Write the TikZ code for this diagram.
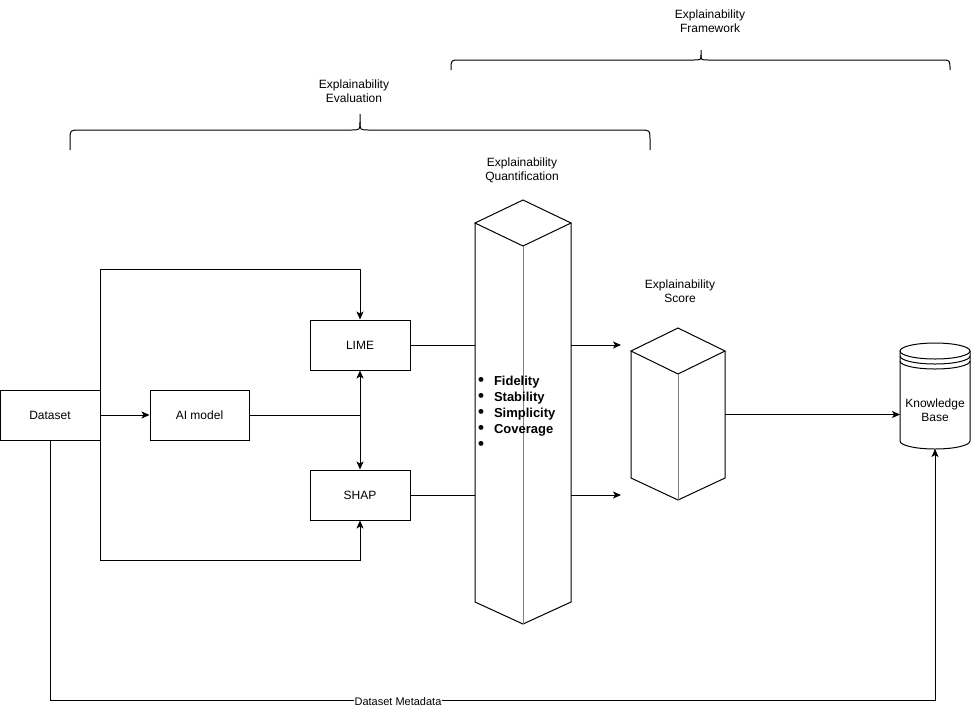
\documentclass[tikz,border=0pt]{standalone}
\usepackage{fontspec}
\setmainfont{Liberation Sans}
\usetikzlibrary{calc,arrows.meta}
\tikzset{
  box/.style={draw, line width=1pt, minimum width=100pt, minimum height=50pt, inner sep=0pt, font=\fontsize{12}{14}\selectfont},
  lbl/.style={align=center, inner sep=0pt, font=\fontsize{12}{14}\selectfont},
  wire/.style={line width=1pt},
  arr/.style={line width=1pt, -{Stealth[length=8pt,width=7pt,inset=2pt]}},
  hold/.style={inner sep=0pt, outer sep=0pt},
}
\newcommand{\metricdot}{\makebox[16pt][l]{\fontsize{17}{16}\selectfont\textbullet}}

\begin{document}
\begin{tikzpicture}[x=1pt,y=-1pt]
        \useasboundingbox (0,0) rectangle (971,710);

        % Draw the boxes
        \node[box] (dataset) at (50,415) {Dataset};
        \node[box, minimum width=99pt] (aimodel) at (199.5,415) {AI model};
        \node[box] (lime) at (360,345) {LIME};
        \node[box] (shap) at (360,495) {SHAP};

        % Frames for the prisms and the store
        \node[hold, minimum width=96pt, minimum height=379pt] (quant) at (523,412.5) {};
        \node[hold, minimum width=94pt, minimum height=127pt] (score) at (678,414.5) {};
        \node[hold, minimum width=70pt, minimum height=106pt] (kb) at (935,396) {};

        % Draw the tall prism
        \draw[wire] (quant.north west) -- ($(quant.north)+(0,-23)$) -- (quant.north east) -- ($(quant.north)+(0,23)$) -- cycle;
        \draw[wire] (quant.north west) -- (quant.south west) -- ($(quant.south)+(0,22)$) -- (quant.south east) -- (quant.north east);
        \draw[wire, gray] ($(quant.north)+(0,23)$) -- ($(quant.south)+(0,22)$);

        % Draw the score prism
        \draw[wire] (score.north west) -- ($(score.north)+(0,-23)$) -- (score.north east) -- ($(score.north)+(0,23)$) -- cycle;
        \draw[wire] (score.north west) -- (score.south west) -- ($(score.south)+(0,22)$) -- (score.south east) -- (score.north east);
        \draw[wire, gray] ($(score.north)+(0,23)$) -- ($(score.south)+(0,22)$);

        % Draw the knowledge base cylinder
        \draw[wire] ($(kb.north)+(0,8)$) ellipse [x radius=35, y radius=8];
        \draw[wire] ($(kb.north west)+(0,8)$) -- ($(kb.south west)+(0,-8)$) arc[start angle=180, end angle=0, x radius=35, y radius=8] -- ($(kb.north east)+(0,8)$);
        \draw[wire] ($(kb.north west)+(0,13)$) arc[start angle=180, end angle=0, x radius=35, y radius=8];
        \draw[wire] ($(kb.north west)+(0,18)$) arc[start angle=180, end angle=0, x radius=35, y radius=8];
        \node[lbl] (kbtext) at ($(kb)+(0,14)$) {Knowledge\\Base};

        % Metrics inside the tall prism
        \node[hold, anchor=west, align=left, font=\bfseries\fontsize{13}{16}\selectfont] (metrics) at (478,413)
          {\metricdot Fidelity\\
           \metricdot Stability\\
           \metricdot Simplicity\\
           \metricdot Coverage\\
           \metricdot};

        % Connectors
        \draw[arr] (dataset) -- (aimodel);
        \draw[arr] (dataset.north east) -- ++(0,-120) -| (lime.north);
        \draw[arr] (dataset.south east) -- ++(0,120) -| (shap.south);
        \draw[arr] (aimodel.east) -| (lime.south);
        \draw[arr] (aimodel.east) -| (shap.north);

        \coordinate (limeend) at ($(lime.east -| score.west)+(-10,0)$);
        \coordinate (shapend) at ($(shap.east -| score.west)+(-10,0)$);
        \draw[wire] (lime.east) -- (lime.east -| quant.west);
        \draw[arr] (lime.east -| quant.east) -- (limeend);
        \draw[wire] (shap.east) -- (shap.east -| quant.west);
        \draw[arr] (shap.east -| quant.east) -- (shapend);
        \draw[arr] (score.east) -- (score.east -| kb.west);

        \draw[arr] (dataset.south) -- ++(0,260) -| (kb.south);
        \node[lbl, fill=white, inner sep=1pt, font=\fontsize{11}{13}\selectfont] (meta) at (398,702) {Dataset Metadata};

        % Braces
        \draw[wire] (70,150) -- (70,140) .. controls (70,130) .. (80,130) -- (351,130) .. controls (360,130) .. (360,122) -- (360,114);
        \draw[wire] (360,122) .. controls (360,130) .. (369,130) -- (640,130) .. controls (650,130) .. (650,140) -- (650,150);
        \draw[wire] (451,70) .. controls (451,60) .. (459,60) -- (693,60) .. controls (701,60) .. (701,55) -- (701,50);
        \draw[wire] (701,55) .. controls (701,60) .. (709,60) -- (942,60) .. controls (950,60) .. (950,70);

        % Labels
        \node[lbl] (evallbl) at (354,91) {Explainability\\Evaluation};
        \node[lbl] (framelbl) at (710,21) {Explainability\\Framework};
        \node[lbl] (quantlbl) at (522,170) {Explainability\\Quantification};
        \node[lbl] (scorelbl) at (680,291) {Explainability\\Score};
    \end{tikzpicture}
\end{document}
